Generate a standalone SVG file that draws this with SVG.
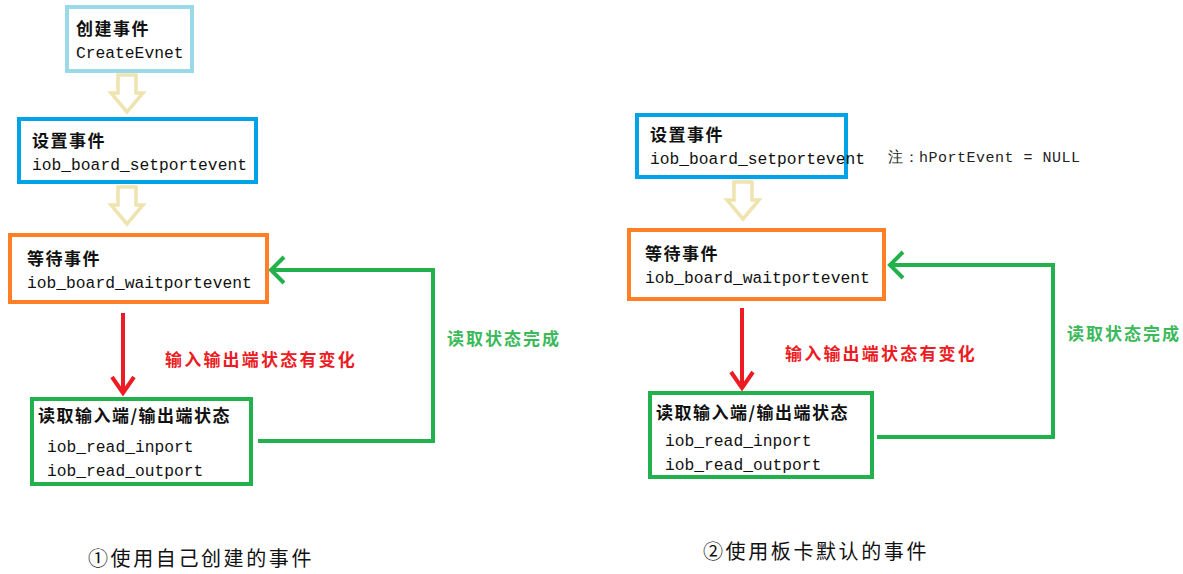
<svg xmlns="http://www.w3.org/2000/svg" width="1183" height="574" viewBox="0 0 1183 574">
<style>
.box{fill:#fff;stroke-width:4}
.lb{stroke:#99d9ea}.bl{stroke:#00a2e8}.or{stroke:#ff7f27}.gr{stroke:#22b14c}
.cn{font-family:"Noto Sans CJK SC",sans-serif;font-size:17px;fill:#111;font-weight:bold;letter-spacing:1.5px}
.mo{font-family:"Liberation Mono",monospace;font-size:16.3px;fill:#111}
.red{font-family:"Noto Sans CJK SC",sans-serif;font-size:17px;fill:#ed1c24;font-weight:bold;letter-spacing:2.2px}
.grt{font-family:"Noto Sans CJK SC",sans-serif;font-size:17px;fill:#3cb95a;font-weight:bold;letter-spacing:2px}
.cap{font-family:"Noto Sans CJK SC",sans-serif;font-size:20px;fill:#111;letter-spacing:2.6px}
.note{font-family:"Liberation Mono",monospace;font-size:15px;fill:#222;letter-spacing:0.5px}
.hollow{fill:#fff;stroke:#efe4b0;stroke-width:3.5}
.rl{fill:none;stroke:#ed1c24;stroke-width:4}
.gl{fill:none;stroke:#22b14c;stroke-width:4}
</style>
<defs>
<path id="ha" d="M-9,0 H9 V18 H16 L0,37 L-16,18 H-9 Z"/>
</defs>
<g id="connectors">
<use href="#ha" class="hollow" transform="translate(127,75)"/>
<use href="#ha" class="hollow" transform="translate(127,187)"/>
<use href="#ha" class="hollow" transform="translate(743,182)"/>
<path class="rl" d="M123,313 V393 M112,377 L123,393 L134,377"/>
<path class="rl" d="M742,308 V388 M731,372 L742,388 L753,372"/>
<path class="gl" d="M258,441 H433 V270 H271 M284,257 L271,270 L284,283"/>
<path class="gl" d="M877,437 H1053 V265 H890 M903,252 L890,265 L903,278"/>
<text class="red" x="165" y="366">输入输出端状态有变化</text>
<text class="grt" x="447" y="345">读取状态完成</text>
<text class="red" x="785" y="360">输入输出端状态有变化</text>
<text class="grt" x="1067" y="340">读取状态完成</text>
</g>
<g id="n1">
<rect class="box lb" x="67" y="7" width="125" height="64"/>
<text class="cn" x="76" y="35">创建事件</text>
<text class="mo" x="76" y="58">CreateEvnet</text>
</g>
<g id="n2">
<rect class="box bl" x="19" y="119" width="237" height="63"/>
<text class="cn" x="32" y="147">设置事件</text>
<text class="mo" x="32" y="170">iob_board_setportevent</text>
</g>
<g id="n3">
<rect class="box or" x="10" y="235" width="257" height="67"/>
<text class="cn" x="27" y="265">等待事件</text>
<text class="mo" x="27" y="288">iob_board_waitportevent</text>
</g>
<g id="n4">
<rect class="box gr" x="32" y="399" width="219" height="85"/>
<text class="cn" x="38" y="422">读取输入端/输出端状态</text>
<text class="mo" x="47" y="452">iob_read_inport</text>
<text class="mo" x="47" y="476">iob_read_outport</text>
</g>
<g id="n5">
<rect class="box bl" x="637" y="115" width="209" height="62"/>
<text class="cn" x="650" y="141">设置事件</text>
<text class="mo" x="650" y="164">iob_board_setportevent</text>
</g>
<text class="note" x="888" y="162">注：hPortEvent = NULL</text>
<g id="n6">
<rect class="box or" x="629" y="230" width="255" height="69"/>
<text class="cn" x="645" y="260">等待事件</text>
<text class="mo" x="645" y="283">iob_board_waitportevent</text>
</g>
<g id="n7">
<rect class="box gr" x="650" y="393" width="222" height="84"/>
<text class="cn" x="656" y="419">读取输入端/输出端状态</text>
<text class="mo" x="665" y="446">iob_read_inport</text>
<text class="mo" x="665" y="470">iob_read_outport</text>
</g>
<text class="cap" x="88" y="566">①使用自己创建的事件</text>
<text class="cap" x="703" y="559">②使用板卡默认的事件</text>
</svg>
